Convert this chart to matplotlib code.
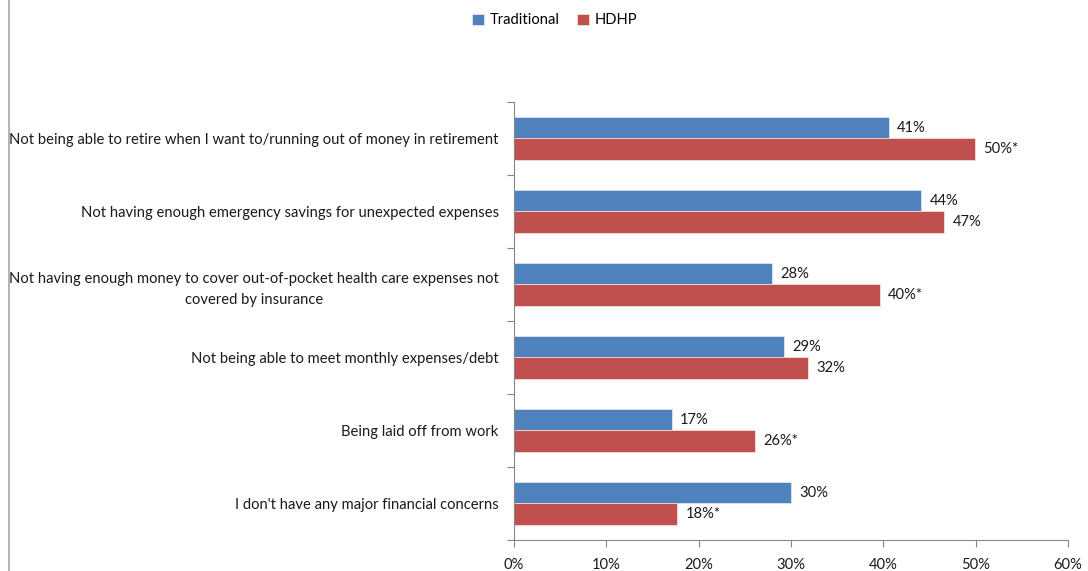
import matplotlib
matplotlib.use("Agg")
import matplotlib.pyplot as plt
from matplotlib.lines import Line2D
import numpy as np

plt.rcParams['font.family'] = ['Lato', 'DejaVu Sans']

categories = [
    "Not being able to retire when I want to/running out of money in retirement",
    "Not having enough emergency savings for unexpected expenses",
    "Not having enough money to cover out-of-pocket health care expenses not\ncovered by insurance",
    "Not being able to meet monthly expenses/debt",
    "Being laid off from work",
    "I don't have any major financial concerns",
]
traditional = [40.6, 44.1, 27.9, 29.2, 17.1, 30.0]
hdhp = [49.9, 46.6, 39.6, 31.8, 26.1, 17.7]
trad_labels = ["41%", "44%", "28%", "29%", "17%", "30%"]
hdhp_labels = ["50%*", "47%", "40%*", "32%", "26%*", "18%*"]
xticks = [0, 10, 20, 30, 40, 50, 60]

blue = "#4f81bd"
red = "#c0504d"
grey = "#868686"
fs = 10.6

fig = plt.figure(figsize=(10.88, 5.71), dpi=100)
ax = fig.add_axes([0.4724, 0.0543, 0.5092, 0.7671])

n = len(categories)
pos = np.arange(n)[::-1]
h = 0.29
ax.barh(pos + h / 2, traditional, height=h, color=blue, edgecolor="#dce6f2", linewidth=0.6, label="Traditional")
ax.barh(pos - h / 2, hdhp, height=h, color=red, edgecolor="#f2dcdb", linewidth=0.6, label="HDHP")

for p, v, t in zip(pos, traditional, trad_labels):
    ax.text(v + 0.9, p + h / 2, t, va="center", ha="left", fontsize=fs, color="#1a1a1a")
for p, v, t in zip(pos, hdhp, hdhp_labels):
    ax.text(v + 0.9, p - h / 2, t, va="center", ha="left", fontsize=fs, color="#1a1a1a")

ax.set_xlim(0, 60)
ax.set_ylim(-0.5, n - 0.5)
ax.set_xticks(xticks)
ax.set_xticklabels([f"{x}%" for x in xticks], fontsize=fs, color="#1a1a1a")

ax.set_yticks(np.arange(-0.5, n, 1.0))
ax.set_yticklabels([])
ax.set_yticks(pos, minor=True)
ax.set_yticklabels(categories, minor=True, fontsize=fs, color="#1a1a1a",
                   multialignment="center", linespacing=1.6)
ax.tick_params(axis="y", which="minor", length=0, pad=11)
ax.tick_params(axis="y", which="major", length=5, color=grey, direction="out")
ax.tick_params(axis="x", length=5, color=grey, direction="out", pad=8)

for s in ["top", "right"]:
    ax.spines[s].set_visible(False)
for s in ["left", "bottom"]:
    ax.spines[s].set_color(grey)

fig.legend(loc="upper center", bbox_to_anchor=(0.51, 1.0), ncol=2, frameon=False,
           fontsize=fs, handlelength=0.8, handleheight=0.8, columnspacing=1.2, handletextpad=0.4)

fig.add_artist(Line2D([9 / 1088, 9 / 1088], [0, 1], transform=fig.transFigure, color="#a6a6a6", linewidth=1.2))

fig.savefig("out.png", dpi=100)
